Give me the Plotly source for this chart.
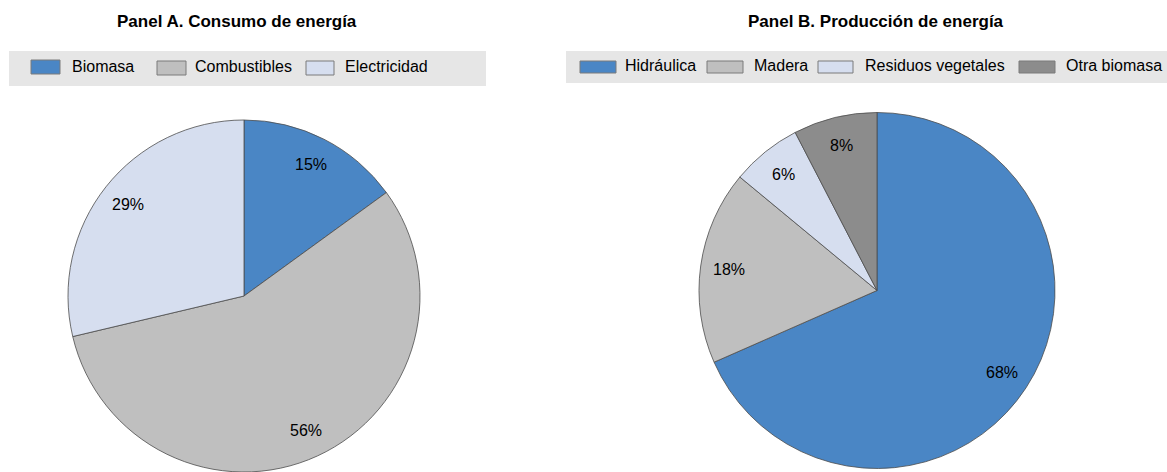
import numpy as np
import plotly.graph_objects as go

# Data:
labels_a = ["Biomasa", "Combustibles", "Electricidad"]
values_a = [15.0, 56.3, 28.7]
labels_b = ["Hidráulica", "Madera", "Residuos vegetales", "Otra biomasa"]
values_b = [68.4, 17.6, 6.4, 7.6]
title_a = "Panel A. Consumo de energía"
title_b = "Panel B. Producción de energía"

colors_a = ["#4a86c5", "#bfbfbf", "#d6deef"]
colors_b = ["#4a86c5", "#bfbfbf", "#d6deef", "#8c8c8c"]

W, H = 1167, 472
font_name = "Liberation Sans, Arial, sans-serif"

def px(x):
    return x / W

def py(y):
    return 1 - y / H

# Pie geometry (pixels, top-down)
pies = [
    dict(labels=labels_a, values=values_a, colors=colors_a, cx=244, cy=296, r=176, title=title_a, tx=237),
    dict(labels=labels_b, values=values_b, colors=colors_b, cx=877, cy=290.5, r=178, title=title_b, tx=876),
]

fig = go.Figure()
annotations = []
for p in pies:
    fig.add_trace(
        go.Pie(
            labels=p["labels"],
            values=p["values"],
            sort=False,
            direction="clockwise",
            rotation=0,
            marker=dict(colors=p["colors"], line=dict(color="#4d4d4d", width=0.8)),
            textinfo="none",
            hoverinfo="label+percent",
            showlegend=False,
            domain=dict(
                x=[px(p["cx"] - p["r"]), px(p["cx"] + p["r"])],
                y=[py(p["cy"] + p["r"]), py(p["cy"] - p["r"])],
            ),
        )
    )
    # percentage labels along the mid angle of each slice
    vals = np.array(p["values"])
    shares = vals / vals.sum()
    mids = np.cumsum(shares) - shares / 2
    for s, m in zip(shares, mids):
        ang = 2 * np.pi * m
        lx = p["cx"] + 0.84 * p["r"] * np.sin(ang)
        ly = p["cy"] - 0.84 * p["r"] * np.cos(ang)
        annotations.append(dict(
            x=px(lx), y=py(ly), xref="paper", yref="paper",
            text=f"{100 * s:.0f}%", showarrow=False,
            font=dict(size=16, color="#000000"),
            xanchor="center", yanchor="middle",
        ))
    annotations.append(dict(
        x=px(p["tx"]), y=py(22), xref="paper", yref="paper",
        text="<b>" + p["title"] + "</b>", showarrow=False,
        font=dict(size=17, color="#000000"),
        xanchor="center", yanchor="middle",
    ))

# Legends drawn by hand (grey band, swatches, labels)
legend_a = dict(box=(9, 51, 486, 86), sw=[(31, 60, 60, 74), (157, 61, 186, 75), (306, 61, 334, 75)],
                tx=[70, 193, 343], ty=67, labels=labels_a, colors=colors_a)
legend_b = dict(box=(566, 51, 1167, 83), sw=[(580, 61, 616, 73), (707, 61, 743, 73), (818, 61, 853, 73), (1019, 61, 1055, 73)],
                tx=[623, 752, 863, 1064], ty=66, labels=labels_b, colors=colors_b)

shapes = []
for lg in [legend_a, legend_b]:
    x0, y0, x1, y1 = lg["box"]
    shapes.append(dict(type="rect", xref="paper", yref="paper",
                       x0=px(x0), x1=px(x1), y0=py(y1), y1=py(y0),
                       fillcolor="#e6e6e6", line=dict(width=0), layer="below"))
    for (sx0, sy0, sx1, sy1), c, lab, t in zip(lg["sw"], lg["colors"], lg["labels"], lg["tx"]):
        shapes.append(dict(type="rect", xref="paper", yref="paper",
                           x0=px(sx0), x1=px(sx1), y0=py(sy1), y1=py(sy0),
                           fillcolor=c, line=dict(color="#7a7a7a", width=1)))
        annotations.append(dict(
            x=px(t), y=py(lg["ty"]), xref="paper", yref="paper",
            text=lab, showarrow=False,
            font=dict(size=16, color="#000000"),
            xanchor="left", yanchor="middle",
        ))

fig.update_layout(
    width=W,
    height=H,
    margin=dict(l=0, r=0, t=0, b=0),
    paper_bgcolor="white",
    plot_bgcolor="white",
    font=dict(family=font_name, size=16, color="#000000"),
    shapes=shapes,
    annotations=annotations,
)

fig.write_html("out.html", config={"displayModeBar": False},
               post_script="document.body.style.margin='0';")
